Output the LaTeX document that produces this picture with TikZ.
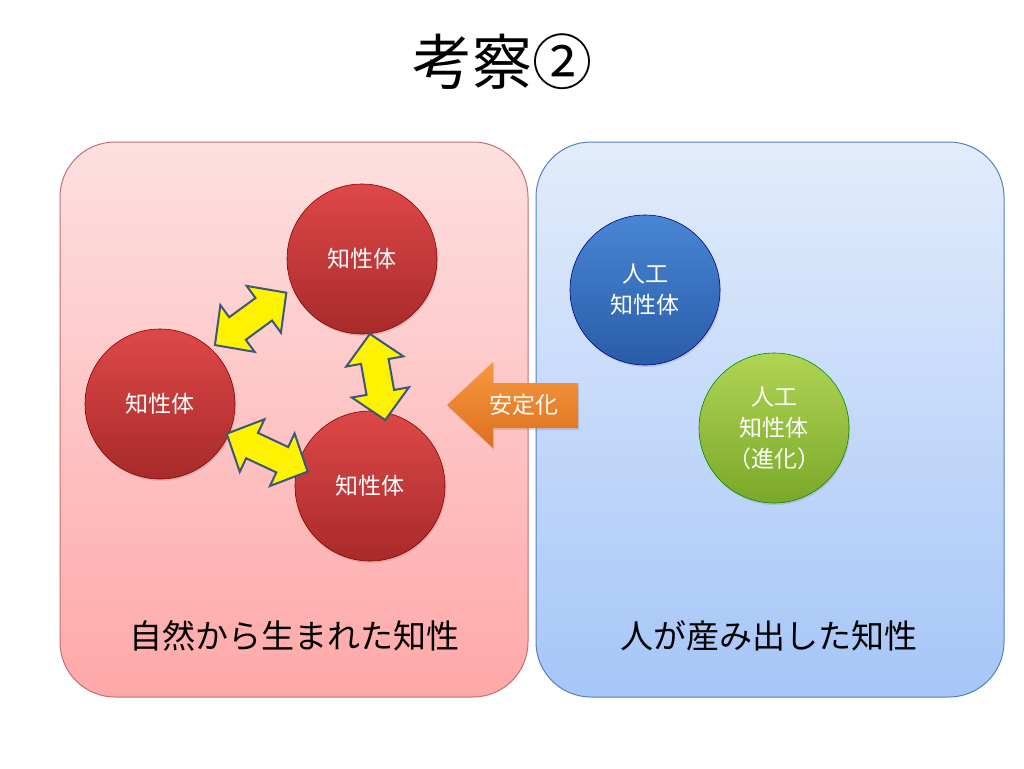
\documentclass[tikz,border=0pt]{standalone}
\usepackage{fontspec}
\setmainfont{Noto Sans CJK JP}
\usetikzlibrary{calc,shadows}
\definecolor{natTop}{RGB}{253,224,224}
\definecolor{natBot}{RGB}{255,168,168}
\definecolor{natLine}{RGB}{196,110,110}
\definecolor{artTop}{RGB}{226,236,251}
\definecolor{artBot}{RGB}{166,198,248}
\definecolor{artLine}{RGB}{84,128,190}
\definecolor{arrowEdge}{RGB}{58,88,120}
\begin{document}
\begin{tikzpicture}[x=1pt,y=-1pt,
  box/.style={rounded corners=55pt, line width=1pt},
  ball/.style={circle, minimum size=150pt, inner sep=0pt, draw=#1!55!black,
    line width=0.6pt, text=white, align=center,
    font=\fontsize{23}{31}\selectfont,
    drop shadow={opacity=0.25, shadow xshift=1pt, shadow yshift=-2pt}},
  redball/.style={ball=red, top color={rgb,255:red,222;green,72;blue,72},
    bottom color={rgb,255:red,168;green,42;blue,42}},
  exarrow/.style={fill=yellow, draw=arrowEdge, line width=2pt, line join=miter},
  boxlabel/.style={font=\fontsize{33}{38}\selectfont}]
  \useasboundingbox (0,0) rectangle (1024,768);
  \fill[white] (0,0) rectangle (1024,768);
  % Title
  \node[font=\fontsize{60}{64}\selectfont] (title) at (502,62) {考察②};
  % Two realms
  \shade[box, top color=natTop, bottom color=natBot] (60,142) rectangle (528,697);
  \draw[box, draw=natLine] (60,142) rectangle (528,697);
  \shade[box, top color=artTop, bottom color=artBot] (536,142) rectangle (1004,697);
  \draw[box, draw=artLine] (536,142) rectangle (1004,697);
  \node[boxlabel] (natlabel) at (294,636) {自然から生まれた知性};
  \node[boxlabel] (artlabel) at (769,636) {人が産み出した知性};
  % Natural intelligences
  \node[redball] (ntop) at (362,259) {知性体};
  \node[redball] (nleft) at (160,404) {知性体};
  \node[redball] (nbot) at (370,486) {知性体};
  % Exchanges between them
  \coordinate (x1a) at ($(nleft)!1.07!(nleft.47)$);
  \coordinate (x1b) at ($(ntop)!1.1!(ntop.204)$);
  \coordinate (x2a) at ($(ntop)!1.0!(ntop.276)$);
  \coordinate (x2b) at ($(nbot)!0.9!(nbot.77)$);
  \coordinate (x3a) at ($(nleft)!0.97!(nleft.-24)$);
  \coordinate (x3b) at ($(nbot)!0.85!(nbot.167)$);
  \foreach \from/\to in {x1a/x1b, x2a/x2b, x3a/x3b}
    \draw[exarrow] (\from)
      -- ($(\from)!28pt!(\to)!29pt!90:(\to)$) -- ($(\from)!28pt!(\to)!14pt!90:(\to)$)
      -- ($(\to)!28pt!(\from)!14pt!-90:(\from)$) -- ($(\to)!28pt!(\from)!29pt!-90:(\from)$)
      -- (\to)
      -- ($(\to)!28pt!(\from)!29pt!90:(\from)$) -- ($(\to)!28pt!(\from)!14pt!90:(\from)$)
      -- ($(\from)!28pt!(\to)!14pt!-90:(\to)$) -- ($(\from)!28pt!(\to)!29pt!-90:(\to)$)
      -- cycle;
  % Artificial intelligences
  \node[ball=blue, top color={rgb,255:red,72;green,134;blue,212},
    bottom color={rgb,255:red,42;green,92;blue,168}] (ai) at (645,290) {人工\\知性体};
  \node[ball=green, top color={rgb,255:red,176;green,212;blue,84},
    bottom color={rgb,255:red,122;green,168;blue,42}] (aievo) at (774,428) {人工\\知性体\\（進化）};
  % Stabilisation
  \shade[top color={rgb,255:red,246;green,152;blue,62},
    bottom color={rgb,255:red,222;green,112;blue,30},
    drop shadow={opacity=0.25, shadow xshift=1pt, shadow yshift=-2pt}]
    (447,405) -- (493,362) -- (493,383) -- (578,383) -- (578,428)
    -- (493,428) -- (493,448) -- cycle;
  \node[text=white, font=\fontsize{23}{26}\selectfont] (stab) at (524,405) {安定化};
\end{tikzpicture}
\end{document}
